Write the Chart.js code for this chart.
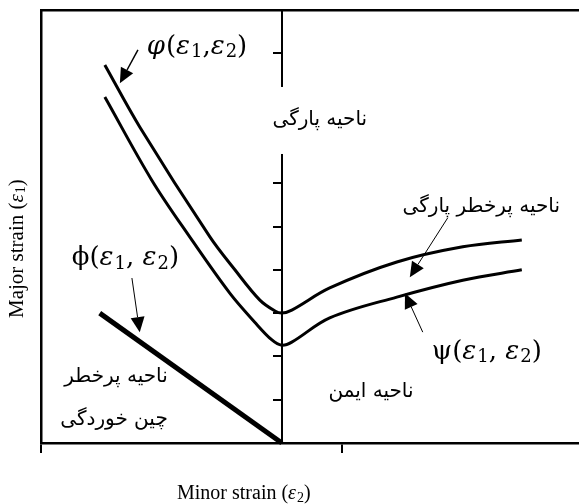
<!DOCTYPE html>
<html>
<head>
<meta charset="utf-8">
<script src="https://cdn.jsdelivr.net/npm/chart.js@4"></script>
<style>
  html, body { margin: 0; padding: 0; background: #fff; }
  #wrap { width: 579px; height: 504px; }
</style>
</head>
<body>
<div id="wrap"><canvas id="flc"></canvas></div>
<script>
// forming limit curves
const upperX = [-0.588, -0.472, -0.239, -0.156, -0.073, -0.023, 0, 0.033, 0.159, 0.382, 0.601, 0.797];
const upperY = [8.73, 7.30, 4.76, 4.00, 3.30, 3.05, 3.00, 3.07, 3.58, 4.18, 4.53, 4.69];
const lowerX = [-0.588, -0.432, -0.306, -0.173, -0.090, -0.033, 0, 0.033, 0.159, 0.382, 0.601, 0.797];
const lowerY = [7.99, 6.07, 4.76, 3.46, 2.79, 2.38, 2.26, 2.33, 2.89, 3.37, 3.76, 4.00];
const wrinkleX = [-0.605, 0];
const wrinkleY = [3.0, 0];
const xTicks = [-0.8, 0.2];

const pts = (xs, ys) => xs.map((x, i) => ({ x: x, y: ys[i] }));

// labels and arrows, placed in data units
const notes = [
  { rich: [['φ','i'],['(',''],['ε','i'],['1','s'],[',',''],['ε','i'],['2','s'],[')','']], x: -0.449, y: 9.15 },
  { rich: [['ϕ',''],['(',''],['ε','i'],['1','s'],[', ',''],['ε','i'],['2','s'],[')','']], x: -0.698, y: 4.27 },
  { rich: [['ψ',''],['(',''],['ε','i'],['1','s'],[', ',''],['ε','i'],['2','s'],[')','']], x: 0.498, y: 2.10 }
];
const farsi = [
  { text: 'ناحیه پارگی', x: 0.126, y: 7.46, align: 'center', mask: true },
  { text: 'ناحیه پرخطر پارگی', x: 0.924, y: 5.45, align: 'right' },
  { text: 'ناحیه ایمن', x: 0.296, y: 1.18, align: 'center' },
  { text: 'ناحیه پرخطر', x: -0.379, y: 1.52, align: 'right' },
  { text: 'چین خوردگی', x: -0.379, y: 0.53, align: 'right' }
];
const arrows = [
  { from: [-0.478, 9.08], to: [-0.538, 8.31], w: 1.5 },
  { from: [-0.498, 3.81], to: [-0.472, 2.56], w: 1 },
  { from: [0.468, 2.56], to: [0.409, 3.46], w: 1 },
  { from: [0.551, 5.20], to: [0.425, 3.83], w: 1 }
];
const xTitle = [['Minor strain (',''],['ε','i'],['2','s'],[')','']];
const yTitle = [['Major strain (',''],['ε','i'],['1','s'],[')','']];

function drawRich(ctx, segs, x, y, size, subSize, family) {
  let px = x;
  segs.forEach(seg => {
    const t = seg[0], st = seg[1];
    if (st === 's') {
      ctx.font = subSize + 'px ' + family;
      ctx.fillText(t, px, y + size * 0.22);
    } else {
      ctx.font = (st === 'i' ? 'italic ' : '') + size + 'px ' + family;
      ctx.fillText(t, px, y);
    }
    px += ctx.measureText(t).width + (st === 'i' ? 1 : 0);
  });
}

const notesPlugin = {
  id: 'notes',
  afterDraw(chart) {
    const ctx = chart.ctx;
    const sx = chart.scales.x, sy = chart.scales.y;
    ctx.save();
    ctx.fillStyle = '#000';
    ctx.strokeStyle = '#000';

    // persian region labels
    ctx.font = '20px "DejaVu Sans"';
    ctx.textBaseline = 'middle';
    ctx.direction = 'rtl';
    farsi.forEach(f => {
      const px = sx.getPixelForValue(f.x), py = sy.getPixelForValue(f.y);
      const w = ctx.measureText(f.text).width;
      if (f.mask) {
        ctx.fillStyle = '#fff';
        ctx.fillRect(px - w / 2 - 3, py - 33, w + 6, 67);
        ctx.fillStyle = '#000';
      }
      ctx.textAlign = f.align;
      ctx.fillText(f.text, px, py);
    });
    ctx.direction = 'ltr';

    // math labels
    ctx.textAlign = 'left';
    notes.forEach(n => {
      drawRich(ctx, n.rich, sx.getPixelForValue(n.x), sy.getPixelForValue(n.y), 26, 18, '"DejaVu Serif"');
    });

    // axis titles
    drawRich(ctx, xTitle, 177, 494, 20, 14, '"Liberation Serif"');
    ctx.save();
    ctx.translate(17, 318);
    ctx.rotate(-Math.PI / 2);
    drawRich(ctx, yTitle, 0, 0, 21, 14, '"Liberation Serif"');
    ctx.restore();

    // arrows
    arrows.forEach(a => {
      const x1 = sx.getPixelForValue(a.from[0]), y1 = sy.getPixelForValue(a.from[1]);
      const x2 = sx.getPixelForValue(a.to[0]), y2 = sy.getPixelForValue(a.to[1]);
      const ang = Math.atan2(y2 - y1, x2 - x1);
      const len = 15, half = 7;
      const bx = x2 - len * Math.cos(ang), by = y2 - len * Math.sin(ang);
      ctx.lineWidth = a.w;
      ctx.beginPath();
      ctx.moveTo(x1, y1);
      ctx.lineTo(bx, by);
      ctx.stroke();
      ctx.beginPath();
      ctx.moveTo(x2, y2);
      ctx.lineTo(bx + half * Math.sin(ang), by - half * Math.cos(ang));
      ctx.lineTo(bx - half * Math.sin(ang), by + half * Math.cos(ang));
      ctx.closePath();
      ctx.fill();
    });
    ctx.restore();
  }
};

const curve = (data, width) => ({
  data: data,
  borderColor: '#000',
  borderWidth: width,
  pointRadius: 0,
  fill: false,
  tension: 0.35,
  clip: false
});

new Chart(document.getElementById('flc'), {
  type: 'line',
  data: {
    datasets: [
      curve(pts(upperX, upperY), 3),
      curve(pts(lowerX, lowerY), 3),
      Object.assign(curve(pts(wrinkleX, wrinkleY), 5), { tension: 0 })
    ]
  },
  options: {
    responsive: true,
    maintainAspectRatio: false,
    animation: false,
    events: [],
    plugins: { legend: { display: false }, tooltip: { enabled: false } },
    layout: { padding: 0 },
    scales: {
      x: {
        type: 'linear',
        position: 'bottom',
        min: -0.8,
        max: 0.987,
        afterBuildTicks: s => { s.ticks = xTicks.map(v => ({ value: v })); },
        afterFit: s => { s.height = 61; },
        ticks: { display: false },
        grid: { drawOnChartArea: false, drawTicks: true, tickLength: 10, color: '#000', lineWidth: 2 },
        border: { display: true, color: '#000', width: 2.5 }
      },
      xTop: {
        type: 'linear',
        position: 'top',
        min: -0.8,
        max: 0.987,
        afterFit: s => { s.height = 10; },
        ticks: { display: false },
        grid: { display: false },
        border: { display: true, color: '#000', width: 2.5 }
      },
      y: {
        type: 'linear',
        position: { x: 0 },
        min: 0,
        max: 10,
        ticks: { display: false, stepSize: 1 },
        grid: { drawOnChartArea: false, drawTicks: true, tickLength: 8, color: '#000', lineWidth: 2 },
        border: { display: true, color: '#000', width: 2 }
      },
      yLeft: {
        type: 'linear',
        position: 'left',
        min: 0,
        max: 10,
        afterFit: s => { s.width = 41; },
        ticks: { display: false },
        grid: { display: false },
        border: { display: true, color: '#000', width: 2.5 }
      }
    }
  },
  plugins: [notesPlugin]
});
</script>
</body>
</html>
